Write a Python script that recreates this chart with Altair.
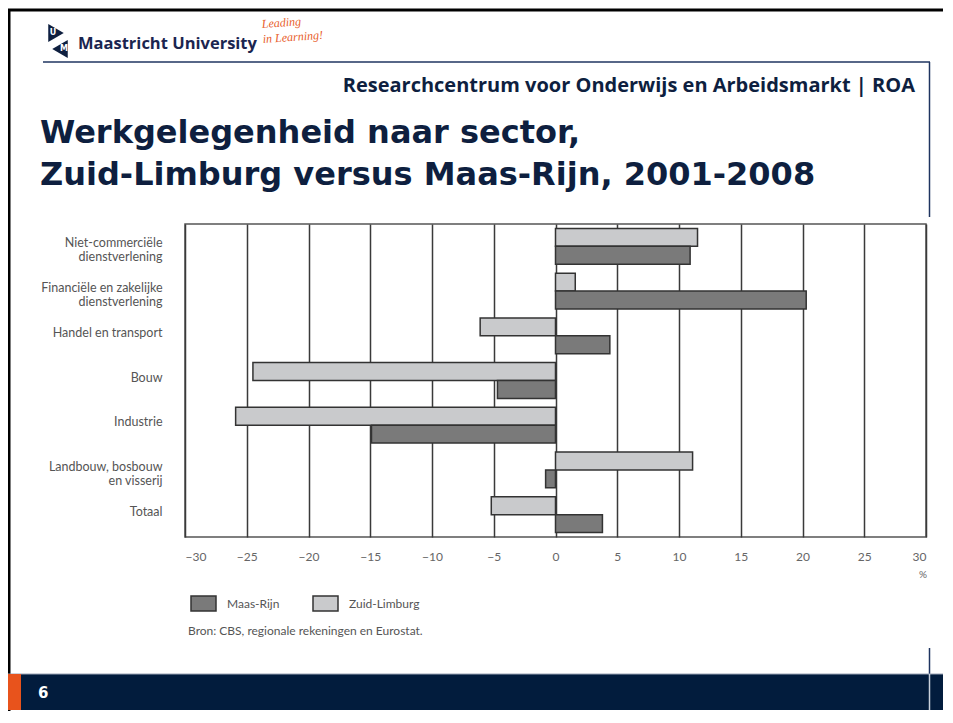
import altair as alt
import pandas as pd

# ---- data ----
categories = [
    "Niet-commerciële|dienstverlening",
    "Financiële en zakelijke|dienstverlening",
    "Handel en transport",
    "Bouw",
    "Industrie",
    "Landbouw, bosbouw|en visserij",
    "Totaal",
]
zuid_limburg = [11.5, 1.6, -6.1, -24.5, -25.9, 11.1, -5.2]
maas_rijn = [10.9, 20.3, 4.4, -4.7, -14.9, -0.8, 3.8]
regions = ["Maas-Rijn", "Zuid-Limburg"]
x_ticks = list(range(-30, 31, 5))

rows = []
for c, z, m in zip(categories, zuid_limburg, maas_rijn):
    rows.append({"sector": c, "region": "Zuid-Limburg", "value": z})
    rows.append({"sector": c, "region": "Maas-Rijn", "value": m})
df = pd.DataFrame(rows)

NAVY = "#0e1f3f"
LABEL_FONT = "Lato"

bars = alt.Chart(df).mark_bar(stroke="#333333", strokeWidth=1.5, opacity=1).encode(
    x=alt.X("value:Q",
            scale=alt.Scale(domain=[-30, 30], nice=False, zero=False),
            axis=alt.Axis(values=x_ticks, title=None, ticks=False, domain=False,
                          grid=True, gridColor="#3a3a3a", gridWidth=1.5, gridOpacity=1,
                          labelFont=LABEL_FONT, labelFontSize=12, labelColor="#666666",
                          labelPadding=14)),
    y=alt.Y("sector:N", sort=categories,
            scale=alt.Scale(paddingInner=0.2, paddingOuter=0.1),
            axis=alt.Axis(title=None, ticks=False, domain=False,
                          labelExpr="split(datum.label, '|')",
                          labelFont=LABEL_FONT, labelFontSize=12.5, labelColor="#555555",
                          labelBaseline="top", labelOffset=-9, labelLineHeight=14,
                          labelPadding=23, labelAlign="right", labelLimit=300)),
    yOffset=alt.YOffset("region:N", sort=["Zuid-Limburg", "Maas-Rijn"]),
    color=alt.Color("region:N",
                    scale=alt.Scale(domain=regions, range=["#7a7a7a", "#c9cacc"]),
                    legend=alt.Legend(title=None, orient="none", legendX=5, legendY=366,
                                      direction="horizontal",
                                      symbolType="M-1,-0.6H1V0.6H-1Z", symbolSize=625,
                                      symbolStrokeColor="#333333", symbolStrokeWidth=1.5,
                                      symbolOpacity=1,
                                      labelFont=LABEL_FONT, labelFontSize=12,
                                      labelColor="#555555", labelOffset=10,
                                      columnPadding=30)),
)


def one():
    return alt.Chart(pd.DataFrame({"t": [""]}))


def txt(text, x, y, **kw):
    return alt.Chart(pd.DataFrame({"t": [text]})).mark_text(**kw).encode(
        x=alt.value(x), y=alt.value(y), text="t:N")


def hrule(x1, x2, y, color, w):
    return one().mark_rule(color=color, strokeWidth=w).encode(
        x=alt.value(x1), x2=alt.value(x2), y=alt.value(y))


def vrule(x, y1, y2, color, w):
    return one().mark_rule(color=color, strokeWidth=w).encode(
        x=alt.value(x), y=alt.value(y1), y2=alt.value(y2))


def rect(x1, x2, y1, y2, color):
    return one().mark_rect(color=color, opacity=1).encode(
        x=alt.value(x1), x2=alt.value(x2), y=alt.value(y1), y2=alt.value(y2))


def tri(shape, x, y, size):
    return one().mark_point(shape=shape, filled=True, color=NAVY, size=size, opacity=1).encode(
        x=alt.value(x), y=alt.value(y))


deco = [
    # slide frame
    hrule(-177, 770, -214, "#000000", 3),
    vrule(-176, -215, 500, "#000000", 3),
    # logo
    tri("triangle-right", -129, -191, 320),
    tri("triangle-left", -125, -175, 320),
    txt("U", -132, -191, font="DejaVu Sans", fontSize=8, fontWeight="bold", color="white",
        align="center", baseline="middle"),
    txt("M", -121, -175, font="DejaVu Sans", fontSize=8, fontWeight="bold", color="white",
        align="center", baseline="middle"),
    txt("Maastricht University", -107, -175, font="Open Sans", fontSize=16.5,
        fontWeight="bold", color="#1b2550", align="left", baseline="alphabetic"),
    txt("Leading", 77, -196, font="Liberation Serif", fontSize=12, fontStyle="italic",
        color="#e8602c", align="left", baseline="alphabetic", angle=356),
    txt("in Learning!", 78, -181, font="Liberation Serif", fontSize=12, fontStyle="italic",
        color="#e8602c", align="left", baseline="alphabetic", angle=356),
    # header rule and frame
    hrule(-142, 745, -162, "#1f3460", 1.5),
    vrule(744.5, -162, -7, "#1f3460", 1.5),
    txt("Researchcentrum voor Onderwijs en Arbeidsmarkt | ROA", 730, -132,
        font="Open Sans", fontSize=20, fontWeight="bold", color=NAVY,
        align="right", baseline="alphabetic"),
    # title
    txt("Werkgelegenheid naar sector,", -145, -81, font="DejaVu Sans", fontSize=32,
        fontWeight="bold", color=NAVY, align="left", baseline="alphabetic"),
    txt("Zuid-Limburg versus Maas-Rijn, 2001-2008", -145, -39, font="DejaVu Sans",
        fontSize=32, fontWeight="bold", color=NAVY, align="left", baseline="alphabetic"),
    # axis unit and source
    txt("%", 738, 351, font=LABEL_FONT, fontSize=10, color="#666666",
        align="center", baseline="middle"),
    txt("Bron: CBS, regionale rekeningen en Eurostat.", 3, 407, font=LABEL_FONT,
        fontSize=12, color="#555555", align="left", baseline="middle"),
    # footer
    vrule(744.5, 424, 450, "#1f3460", 1.5),
    rect(-177, 770, 450, 486, "#021c3d"),
    hrule(-177, 770, 450, "#9aa3b5", 1),
    rect(-177, -164, 450, 486, "#e8531c"),
    vrule(744.5, 450, 486, "#c9d0dc", 1.5),
    txt("6", -147, 474, font="DejaVu Sans", fontSize=15, fontWeight="bold",
        color="white", align="left", baseline="alphabetic"),
]

chart = alt.layer(bars, *deco).properties(
    width=741, height=313,
    padding={"left": 177, "top": 216, "right": 17, "bottom": 174},
    autosize=alt.AutoSizeParams(type="none"),
    background="white",
).configure_view(stroke="#555555", strokeWidth=1.5)

chart.save("out.html", embed_options={"renderer": "svg", "actions": False})
